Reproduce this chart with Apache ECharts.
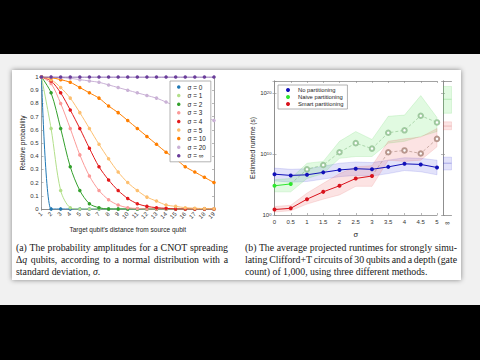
<!DOCTYPE html>
<html><head><meta charset="utf-8">
<script src="https://cdn.jsdelivr.net/npm/echarts@6/dist/echarts.min.js"></script>
<style>
html,body{margin:0;padding:0;width:480px;height:360px;background:#000;overflow:hidden}
#bg{position:absolute;left:0;top:54px;width:480px;height:251px;background:#f1f1f1}
#paper{position:absolute;left:12px;top:70px;width:449px;height:210px;background:#fff;box-shadow:0 0 5px rgba(0,0,0,0.45)}
#chart{position:absolute;left:0;top:0;width:480px;height:360px}
.cap{position:absolute;font-family:"Liberation Serif","DejaVu Serif",serif;font-size:9.8px;line-height:11.8px;color:#161616}
.cap div{white-space:nowrap}
.cap span{display:inline-block;white-space:nowrap}
</style></head>
<body>
<div id="bg"></div><div id="paper"></div>
<div id="chart"></div>
<div class="cap" style="left:16px;top:242px;width:212px">
<div class="j"><span>(a) The probability amplitudes for a CNOT spreading</span></div>
<div class="j"><span>Δ<i>q</i> qubits, according to a normal distribution with a</span></div>
<div><span>standard deviation, <i>σ</i>.</span></div>
</div>
<div class="cap" style="left:245px;top:242px;width:212px">
<div class="j"><span>(b) The average projected runtimes for strongly simu-</span></div>
<div class="j"><span>lating Clifford+T circuits of 30 qubits and a depth (gate</span></div>
<div><span>count) of 1,000, using three different methods.</span></div>
</div>
<script>
// justify caption lines to the column width
document.querySelectorAll('.cap .j span').forEach(sp => {
  const target = 212;
  const w = sp.getBoundingClientRect().width;
  const spaces = (sp.textContent.match(/ /g) || []).length;
  if (spaces > 0) sp.style.wordSpacing = ((target - w) / spaces) + 'px';
});

// ---------- Chart (a) data ----------
const distances = [1,2,3,4,5,6,7,8,9,10,11,12,13,14,15,16,17,18,19];
const sigmaNames = ['σ = 0','σ = 1','σ = 2','σ = 3','σ = 4','σ = 5','σ = 10','σ = 20','σ = ∞'];
const sigmaColors = ['#1f78b4','#b2df8a','#33a02c','#fb9a99','#e31a1c','#fdbf6f','#ff7f00','#cab2d6','#6a3d9a'];
const probSigma0  = [1,0,0,0,0,0,0,0,0,0,0,0,0,0,0,0,0,0,0];
const probSigma1  = [1,0.61,0.14,0.01,0,0,0,0,0,0,0,0,0,0,0,0,0,0,0];
const probSigma2  = [1,0.88,0.61,0.32,0.14,0.04,0.01,0,0,0,0,0,0,0,0,0,0,0,0];
const probSigma3  = [1,0.95,0.80,0.61,0.41,0.25,0.14,0.07,0.03,0.01,0.004,0,0,0,0,0,0,0,0];
const probSigma4  = [1,0.97,0.88,0.75,0.61,0.46,0.32,0.22,0.14,0.08,0.04,0.02,0.01,0.005,0,0,0,0,0];
const probSigma5  = [1,0.98,0.92,0.84,0.73,0.61,0.49,0.38,0.28,0.20,0.14,0.09,0.06,0.03,0.02,0.01,0.006,0.003,0.002];
const probSigma10 = [1,0.995,0.98,0.96,0.92,0.88,0.84,0.78,0.73,0.67,0.61,0.55,0.49,0.43,0.38,0.32,0.28,0.24,0.20];
const probSigma20 = [1,1,0.995,0.99,0.98,0.97,0.96,0.94,0.92,0.90,0.88,0.86,0.84,0.81,0.78,0.76,0.73,0.70,0.67];
const probSigmaInf= [1,1,1,1,1,1,1,1,1,1,1,1,1,1,1,1,1,1,1];
const probSeries = [probSigma0,probSigma1,probSigma2,probSigma3,probSigma4,probSigma5,probSigma10,probSigma20,probSigmaInf];

// ---------- Chart (b) data (log10 of runtime in s) ----------
const sigmaSteps = [0,0.5,1,1.5,2,2.5,3,3.5,4,4.5,5];
const noPartLog   = [6.7,6.5,6.6,7.0,7.4,7.6,7.5,7.9,8.4,8.3,7.8];
const noPartLoLog = [5.6,5.4,5.5,5.9,6.3,6.5,6.4,6.8,7.3,7.1,6.6];
const noPartHiLog = [7.7,7.5,7.6,8.0,8.5,8.7,8.6,9.0,9.4,9.3,9.0];
const naiveLog    = [4.8,5.1,7.5,8.2,10.3,11.8,10.9,13.5,13.9,16.3,15.2];
const naiveLoLog  = [3.8,3.8,6.0,6.8,9.3,9.6,9.6,11.8,12.1,12.9,13.7];
const naiveHiLog  = [5.8,6.0,8.5,8.8,12.1,13.7,12.4,16.2,16.4,19.6,16.0];
const smartLog    = [0.9,1.1,2.6,3.8,4.8,6.0,6.4,10.3,10.6,10.1,12.5];
const smartLoLog  = [0.5,0.7,1.8,2.6,3.3,4.7,4.7,9.0,8.8,9.0,11.2];
const smartHiLog  = [1.4,1.6,3.6,5.2,6.8,7.9,8.1,12.1,12.5,12.8,14.2];
const naiveMeasuredCount = 2;  // sigma 0, 0.5 measured; rest estimated
const smartMeasuredCount = 7;  // sigma 0..3 measured; rest estimated
// sigma = infinity panel: [mean, lo, hi]
const noPartInfLog = [8.5,7.4,9.5];
const naiveInfLog  = [19.0,16.7,21.1];
const smartInfLog  = [14.6,14.0,15.3];
const methodNames = ['No partitioning','Naive partitioning','Smart partitioning'];
const methodColors = ['#1010b8','#2ee62e','#d8121c'];

const P = v => Math.pow(10, v);
const font = '"Liberation Sans", Arial, sans-serif';
const boxColor = '#8a8a8a';
const labelColor = '#333';

function bandSeries(xs, lo, hi, fill, stroke, xi, yi) {
  const data = xs.map((x, i) => [x, P(lo[i]), P(hi[i])]);
  return {
    type: 'custom', xAxisIndex: xi, yAxisIndex: yi, silent: true, z: 1,
    data: data, encode: {x: 0, y: [1, 2]}, clip: true,
    renderItem: function (params, api) {
      if (params.dataIndex !== 0) return null;
      const pts = [];
      for (let i = 0; i < data.length; i++) pts.push(api.coord([data[i][0], data[i][2]]));
      for (let i = data.length - 1; i >= 0; i--) pts.push(api.coord([data[i][0], data[i][1]]));
      return {type: 'polygon', shape: {points: pts}, style: {fill: fill, stroke: stroke, lineWidth: 0.6}};
    }
  };
}

const series = [];
// chart (a)
probSeries.forEach((vals, k) => {
  series.push({
    type: 'line', name: sigmaNames[k], xAxisIndex: 0, yAxisIndex: 0,
    data: distances.map((d, i) => [d, vals[i]]),
    smooth: 0.3,
    symbol: 'circle', symbolSize: 3.5,
    lineStyle: {width: 1, color: sigmaColors[k]},
    itemStyle: {color: sigmaColors[k]},
    emphasis: {disabled: true}
  });
});
// chart (b) bands
series.push(bandSeries(sigmaSteps, noPartLoLog, noPartHiLog, 'rgba(110,110,230,0.20)', 'rgba(90,90,220,0.30)', 2, 2));
series.push(bandSeries(sigmaSteps, naiveLoLog, naiveHiLog, 'rgba(90,225,90,0.18)', 'rgba(70,200,70,0.25)', 2, 2));
series.push(bandSeries(sigmaSteps, smartLoLog, smartHiLog, 'rgba(240,100,100,0.18)', 'rgba(220,80,80,0.25)', 2, 2));
// inf panel bands
[[noPartInfLog,'rgba(110,110,230,0.20)','rgba(90,90,220,0.30)'],[naiveInfLog,'rgba(90,225,90,0.18)','rgba(70,200,70,0.25)'],[smartInfLog,'rgba(240,100,100,0.18)','rgba(220,80,80,0.25)']].forEach(b => {
  series.push(bandSeries([0,1], [b[0][1],b[0][1]], [b[0][2],b[0][2]], b[1], b[2], 4, 4));
});
[[noPartInfLog,'rgba(60,60,200,0.45)'],[naiveInfLog,'rgba(60,190,60,0.35)'],[smartInfLog,'rgba(200,80,80,0.35)']].forEach(b => {
  series.push({type:'line', xAxisIndex:4, yAxisIndex:4, silent:true, symbol:'none',
    data:[[0,P(b[0][0])],[1,P(b[0][0])]], lineStyle:{width:0.8,color:b[1]}});
});
// dashed estimated parts
series.push({
  type: 'line', name: 'naive-est', xAxisIndex: 2, yAxisIndex: 2, z: 3,
  data: sigmaSteps.slice(naiveMeasuredCount - 1).map((x, i) => {
    const v = [x, P(naiveLog[i + naiveMeasuredCount - 1])];
    return i === 0 ? {value: v, symbol: 'none'} : v;
  }),
  symbol: 'emptyCircle', symbolSize: 4.5,
  lineStyle: {width: 0.7, type: [3, 2], color: 'rgba(140,195,140,0.9)'},
  itemStyle: {color: 'rgba(150,195,150,0.9)', borderWidth: 0.5}
});
series.push({
  type: 'line', name: 'smart-est', xAxisIndex: 2, yAxisIndex: 2, z: 3,
  data: sigmaSteps.slice(smartMeasuredCount - 1).map((x, i) => {
    const v = [x, P(smartLog[i + smartMeasuredCount - 1])];
    return i === 0 ? {value: v, symbol: 'none'} : v;
  }),
  symbol: 'emptyCircle', symbolSize: 4.5,
  lineStyle: {width: 0.7, type: [3, 2], color: 'rgba(175,140,130,0.9)'},
  itemStyle: {color: 'rgba(175,140,130,0.9)', borderWidth: 0.5}
});
// solid measured
series.push({
  type: 'line', name: methodNames[0], xAxisIndex: 2, yAxisIndex: 2, z: 4,
  data: sigmaSteps.map((x, i) => [x, P(noPartLog[i])]),
  symbol: 'circle', symbolSize: 4, lineStyle: {width: 1, color: methodColors[0]}, itemStyle: {color: methodColors[0]}
});
series.push({
  type: 'line', name: methodNames[1], xAxisIndex: 2, yAxisIndex: 2, z: 4,
  data: sigmaSteps.slice(0, naiveMeasuredCount).map((x, i) => [x, P(naiveLog[i])]),
  symbol: 'circle', symbolSize: 4, lineStyle: {width: 1, color: methodColors[1]}, itemStyle: {color: methodColors[1]}
});
series.push({
  type: 'line', name: methodNames[2], xAxisIndex: 2, yAxisIndex: 2, z: 4,
  data: sigmaSteps.slice(0, smartMeasuredCount).map((x, i) => [x, P(smartLog[i])]),
  symbol: 'circle', symbolSize: 4, lineStyle: {width: 1, color: methodColors[2]}, itemStyle: {color: methodColors[2]}
});

const axLine = {show: true, lineStyle: {color: boxColor, width: 0.8}};
const tickIn = {show: true, inside: true, length: 2, lineStyle: {color: boxColor, width: 0.6}};
const lbl = {color: labelColor, fontSize: 6, fontFamily: font};
const nameStyle = {color: '#222', fontSize: 6.5, fontFamily: font};

const logLabel = {
  ...lbl, margin: 3,
  formatter: v => { const e = Math.round(Math.log10(v)); return e % 5 === 0 && e <= 20 ? '10{s|' + e + '}' : ''; },
  rich: {s: {fontSize: 4.2, fontFamily: font, color: labelColor, verticalAlign: 'top', lineHeight: 5, padding: [0,0,4,0]}}
};

const option = {
  animation: false,
  grid: [
    {left: 41.5, top: 77, width: 172.5, height: 132},
    {left: 274.5, top: 81, width: 162.5, height: 134},
    {left: 443, top: 81, width: 8.5, height: 134}
  ],
  xAxis: [
    {gridIndex: 0, type: 'value', min: 1, max: 19, interval: 1, axisLine: axLine, axisTick: tickIn, splitLine: {show: false},
     axisLabel: {...lbl, rotate: 45, margin: 4}, name: "Target qubit's distance from source qubit", nameLocation: 'middle', nameGap: 17, nameTextStyle: nameStyle},
    {gridIndex: 0, type: 'value', position: 'top', min: 1, max: 19, interval: 1, axisLine: axLine, axisTick: tickIn, splitLine: {show: false}, axisLabel: {show: false}},
    {gridIndex: 1, type: 'value', min: 0, max: 5, interval: 0.5, axisLine: axLine, axisTick: tickIn, splitLine: {show: false},
     axisLabel: {...lbl, margin: 4}, name: 'σ', nameLocation: 'middle', nameGap: 15, nameTextStyle: {...nameStyle, fontSize: 7.5}},
    {gridIndex: 1, type: 'value', position: 'top', min: 0, max: 5, interval: 0.5, axisLine: axLine, axisTick: tickIn, splitLine: {show: false}, axisLabel: {show: false}},
    {gridIndex: 2, type: 'value', min: 0, max: 1, interval: 0.5, axisLine: axLine, axisTick: {show: false}, splitLine: {show: false},
     axisLabel: {...lbl, margin: 4, fontSize: 6.5, formatter: v => (v === 0.5 ? '∞' : '')}},
    {gridIndex: 2, type: 'value', position: 'top', min: 0, max: 1, axisLine: axLine, axisTick: {show: false}, splitLine: {show: false}, axisLabel: {show: false}}
  ],
  yAxis: [
    {gridIndex: 0, type: 'value', min: 0, max: 1, interval: 0.1, axisLine: axLine, axisTick: tickIn, splitLine: {show: false},
     axisLabel: {...lbl, margin: 3}, name: 'Relative probability', nameLocation: 'middle', nameGap: 14, nameTextStyle: nameStyle},
    {gridIndex: 0, type: 'value', position: 'right', min: 0, max: 1, interval: 0.1, axisLine: axLine, axisTick: tickIn, splitLine: {show: false}, axisLabel: {show: false}},
    {gridIndex: 1, type: 'log', logBase: 10, min: 1, max: 1e22, axisLine: axLine, axisTick: tickIn, splitLine: {show: false},
     axisLabel: logLabel, name: 'Estimated runtime (s)', nameLocation: 'middle', nameGap: 18, nameTextStyle: nameStyle},
    {gridIndex: 1, type: 'log', logBase: 10, position: 'right', min: 1, max: 1e22, axisLine: axLine, axisTick: tickIn, splitLine: {show: false}, axisLabel: {show: false}},
    {gridIndex: 2, type: 'log', logBase: 10, min: 1, max: 1e22, axisLine: axLine, axisTick: tickIn, splitLine: {show: false}, axisLabel: {show: false}},
    {gridIndex: 2, type: 'log', logBase: 10, position: 'right', min: 1, max: 1e22, axisLine: axLine, axisTick: tickIn, splitLine: {show: false}, axisLabel: {show: false}}
  ],
  legend: [
    {data: sigmaNames, orient: 'vertical', left: 170, top: 81, icon: 'circle', itemWidth: 3.5, itemHeight: 3.5, itemGap: 0.6,
     backgroundColor: '#fff', borderColor: '#a0a0a0', borderWidth: 0.8, padding: [2, 5, 2, 7],
     textStyle: {fontSize: 6.4, fontFamily: font, color: '#222', lineHeight: 8, padding: [0, 0, 0, 2]}, selectedMode: false},
    {data: methodNames, orient: 'vertical', left: 278, top: 85, icon: 'circle', itemWidth: 4, itemHeight: 4, itemGap: 0,
     backgroundColor: '#fff', borderColor: '#a0a0a0', borderWidth: 0.8, padding: [1.5, 4, 1.5, 8],
     textStyle: {fontSize: 5.8, fontFamily: font, color: '#222', lineHeight: 7, padding: [0, 0, 0, 3]}, selectedMode: false}
  ],
  series: series
};

const chart = echarts.init(document.getElementById('chart'), null, {renderer: 'svg', width: 480, height: 360});
chart.setOption(option);
</script>
</body></html>
